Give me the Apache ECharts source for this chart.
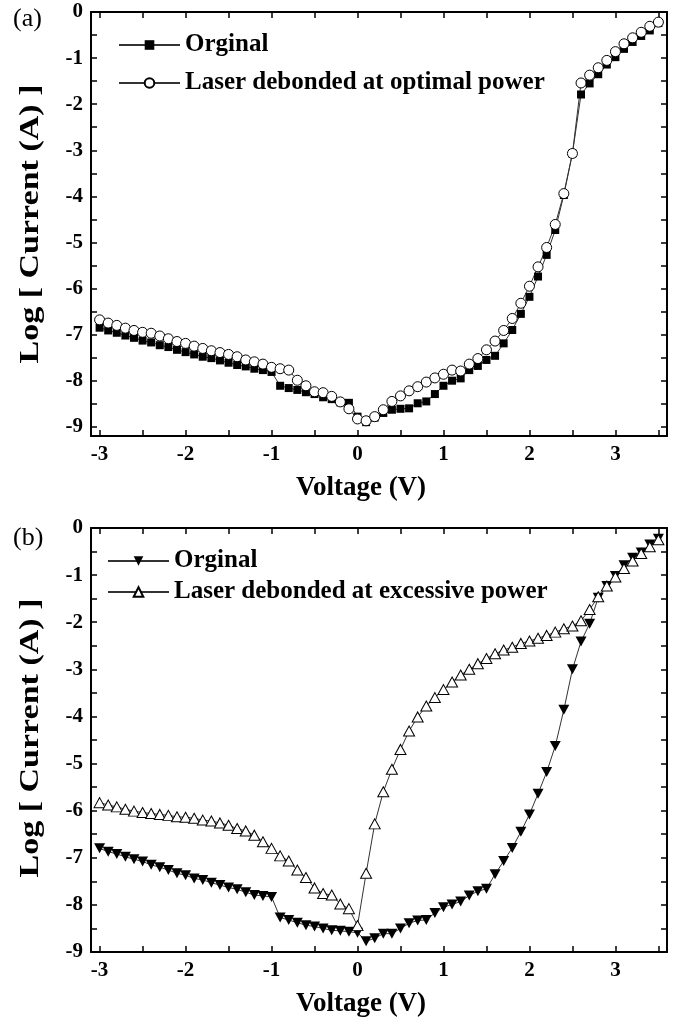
<!DOCTYPE html>
<html>
<head>
<meta charset="utf-8">
<script src="https://cdn.jsdelivr.net/npm/echarts@6/dist/echarts.min.js"></script>
<style>
  html, body { margin: 0; padding: 0; background: #fff; }
  #chart { width: 676px; height: 1021px; }
</style>
</head>
<body>
<div id="chart"></div>
<script>
// Sweep voltages (V), shared by every curve
const voltage = [
  -3.0, -2.9, -2.8, -2.7, -2.6, -2.5, -2.4, -2.3, -2.2, -2.1,
  -2.0, -1.9, -1.8, -1.7, -1.6, -1.5, -1.4, -1.3, -1.2, -1.1,
  -1.0, -0.9, -0.8, -0.7, -0.6, -0.5, -0.4, -0.3, -0.2, -0.1,
   0.0,  0.1,  0.2,  0.3,  0.4,  0.5,  0.6,  0.7,  0.8,  0.9,
   1.0,  1.1,  1.2,  1.3,  1.4,  1.5,  1.6,  1.7,  1.8,  1.9,
   2.0,  2.1,  2.2,  2.3,  2.4,  2.5,  2.6,  2.7,  2.8,  2.9,
   3.0,  3.1,  3.2,  3.3,  3.4,  3.5
];

// Panel (a): log10 of current (A)
const origA = [
  -6.85, -6.91, -6.96, -7.02, -7.07, -7.13, -7.17, -7.23, -7.27, -7.33,
  -7.38, -7.43, -7.48, -7.51, -7.56, -7.61, -7.66, -7.69, -7.74, -7.77,
  -7.81, -8.11, -8.16, -8.20, -8.25, -8.29, -8.36, -8.40, -8.47, -8.48,
  -8.78, -8.90, -8.80, -8.70, -8.63, -8.61, -8.60, -8.49, -8.45, -8.29,
  -8.11, -8.00, -7.95, -7.77, -7.68, -7.55, -7.46, -7.19, -6.90, -6.55,
  -6.18, -5.74, -5.27, -4.73, -3.97, -3.07, -1.79, -1.55, -1.35, -1.14,
  -0.98, -0.80, -0.65, -0.52, -0.40, -0.24
];
const optimalA = [
  -6.68, -6.75, -6.80, -6.86, -6.91, -6.95, -6.97, -7.03, -7.09, -7.15,
  -7.19, -7.25, -7.30, -7.35, -7.39, -7.43, -7.48, -7.55, -7.59, -7.64,
  -7.71, -7.74, -7.77, -7.99, -8.11, -8.24, -8.26, -8.34, -8.46, -8.61,
  -8.83, -8.87, -8.78, -8.63, -8.45, -8.33, -8.22, -8.13, -8.03, -7.94,
  -7.86, -7.77, -7.79, -7.64, -7.52, -7.33, -7.14, -6.91, -6.65, -6.32,
  -5.95, -5.53, -5.11, -4.61, -3.94, -3.07, -1.54, -1.37, -1.21, -1.05,
  -0.86, -0.69, -0.56, -0.44, -0.31, -0.22
];

// Panel (b): log10 of current (A)
const origB = [
  -6.80, -6.87, -6.92, -6.98, -7.03, -7.08, -7.15, -7.20, -7.26, -7.33,
  -7.37, -7.44, -7.47, -7.53, -7.58, -7.63, -7.67, -7.73, -7.79, -7.81,
  -7.83, -8.27, -8.32, -8.38, -8.43, -8.46, -8.50, -8.54, -8.55, -8.57,
  -8.59, -8.77, -8.71, -8.61, -8.61, -8.50, -8.39, -8.33, -8.32, -8.17,
  -8.05, -7.99, -7.93, -7.80, -7.71, -7.66, -7.35, -7.07, -6.79, -6.45,
  -6.08, -5.64, -5.18, -4.63, -3.86, -3.00, -2.41, -2.03, -1.48, -1.23,
  -1.02, -0.79, -0.63, -0.52, -0.35, -0.23
];
const excessiveB = [
  -5.83, -5.88, -5.92, -5.97, -6.01, -6.04, -6.06, -6.08, -6.10, -6.13,
  -6.14, -6.16, -6.20, -6.22, -6.26, -6.31, -6.38, -6.43, -6.52, -6.66,
  -6.80, -6.96, -7.07, -7.26, -7.42, -7.64, -7.76, -7.79, -7.98, -8.08,
  -8.44, -7.33, -6.28, -5.60, -5.12, -4.70, -4.31, -4.01, -3.78, -3.60,
  -3.43, -3.27, -3.12, -3.00, -2.88, -2.77, -2.67, -2.59, -2.53, -2.45,
  -2.40, -2.34, -2.28, -2.21, -2.14, -2.08, -1.97, -1.73, -1.46, -1.23,
  -1.04, -0.86, -0.70, -0.54, -0.40, -0.25
];

// Tick positions and labels
const xTicks = [-3, -2.5, -2, -1.5, -1, -0.5, 0, 0.5, 1, 1.5, 2, 2.5, 3, 3.5];
const xLabels = [-3, -2, -1, 0, 1, 2, 3];
const yTicks = [0, -0.5, -1, -1.5, -2, -2.5, -3, -3.5, -4, -4.5, -5, -5.5, -6, -6.5, -7, -7.5, -8, -8.5, -9];
const yLabels = [0, -1, -2, -3, -4, -5, -6, -7, -8, -9];

const legendText = {
  origA: 'Orginal',
  optA: 'Laser debonded at optimal power',
  origB: 'Orginal',
  excB: 'Laser debonded at excessive power'
};
const yTitle = 'Log [ Current (A) ]';

const FONT = '"Liberation Serif", "Times New Roman", serif';
const pairs = ys => voltage.map((v, i) => [v, ys[i]]);

const axisLine = { show: true, onZero: false, lineStyle: { color: '#000', width: 2 } };
const tick = { show: true, inside: true, length: 6, lineStyle: { color: '#000', width: 1.5 } };
const labelStyle = { color: '#000', fontFamily: FONT, fontWeight: 'bold', fontSize: 21 };
// right padding nudges the centred title a little to the left
const nameStyle = { color: '#000', fontFamily: FONT, fontWeight: 'bold', fontSize: 27, padding: [0, 36, 0, 0] };

function xAxes(grid) {
  return [
    {
      gridIndex: grid, type: 'value', position: 'bottom', min: -3.1, max: 3.6,
      axisLine, axisTick: Object.assign({ customValues: xTicks }, tick),
      axisLabel: Object.assign({ customValues: xLabels, margin: 8 }, labelStyle),
      splitLine: { show: false },
      name: 'Voltage (V)', nameLocation: 'middle', nameGap: 39, nameTextStyle: nameStyle
    },
    {
      gridIndex: grid, type: 'value', position: 'top', min: -3.1, max: 3.6,
      axisLine, axisTick: Object.assign({ customValues: xTicks }, tick),
      axisLabel: { show: false }, splitLine: { show: false }
    }
  ];
}
function yAxes(grid, ymin) {
  return [
    {
      gridIndex: grid, type: 'value', position: 'left', min: ymin, max: 0,
      axisLine, axisTick: Object.assign({ customValues: yTicks }, tick),
      axisLabel: Object.assign({ customValues: yLabels, margin: 8 }, labelStyle),
      splitLine: { show: false }
    },
    {
      gridIndex: grid, type: 'value', position: 'right', min: ymin, max: 0,
      axisLine, axisTick: Object.assign({ customValues: yTicks }, tick),
      axisLabel: { show: false }, splitLine: { show: false }
    }
  ];
}

// Vertical axis title, widened along its reading direction
function yTitleText(cy) {
  return {
    type: 'text', x: 31, y: cy, rotation: Math.PI / 2, scaleX: 1.26,
    style: {
      text: yTitle, font: 'bold 27px ' + FONT, fill: '#000',
      align: 'center', verticalAlign: 'middle'
    }
  };
}

const lineStyle = { color: '#333', width: 1 };
const filled = { color: '#000' };
const hollow = { color: '#fff', borderColor: '#000', borderWidth: 1 };

const legendBase = {
  orient: 'vertical', padding: 0, itemHeight: 12, itemWidth: 61, selectedMode: false,
  textStyle: { color: '#000', fontFamily: FONT, fontWeight: 'bold', fontSize: 25, lineHeight: 26 },
  formatter: n => legendText[n]
};

const option = {
  animation: false,
  backgroundColor: '#fff',
  grid: [
    { left: 91, top: 12, width: 576, height: 424 },
    { left: 91, top: 528, width: 576, height: 424 }
  ],
  xAxis: [...xAxes(0), ...xAxes(1)],
  yAxis: [...yAxes(0, -9.2), ...yAxes(1, -9)],
  legend: [
    Object.assign({ left: 118, top: 32, itemGap: 12, data: ['origA', 'optA'] }, legendBase),
    Object.assign({ left: 107, top: 548, itemGap: 5, data: ['origB', 'excB'] }, legendBase)
  ],
  graphic: [
    { type: 'text', left: 13, top: 6, style: { text: '(a)', font: '26px ' + FONT, fill: '#000' } },
    { type: 'text', left: 13, top: 525, style: { text: '(b)', font: '26px ' + FONT, fill: '#000' } },
    yTitleText(224),
    yTitleText(738)
  ],
  series: [
    { name: 'origA', type: 'line', xAxisIndex: 0, yAxisIndex: 0, data: pairs(origA),
      symbol: 'rect', symbolSize: 8, itemStyle: filled, lineStyle },
    { name: 'optA', type: 'line', xAxisIndex: 0, yAxisIndex: 0, data: pairs(optimalA),
      symbol: 'circle', symbolSize: 10, itemStyle: hollow, lineStyle },
    { name: 'origB', type: 'line', xAxisIndex: 2, yAxisIndex: 2, data: pairs(origB),
      symbol: 'triangle', symbolRotate: 180, symbolSize: [11, 10], itemStyle: filled, lineStyle },
    { name: 'excB', type: 'line', xAxisIndex: 2, yAxisIndex: 2, data: pairs(excessiveB),
      symbol: 'triangle', symbolSize: [11, 10], itemStyle: hollow, lineStyle }
  ]
};

echarts.init(document.getElementById('chart'), null, { renderer: 'canvas' }).setOption(option);
</script>
</body>
</html>
